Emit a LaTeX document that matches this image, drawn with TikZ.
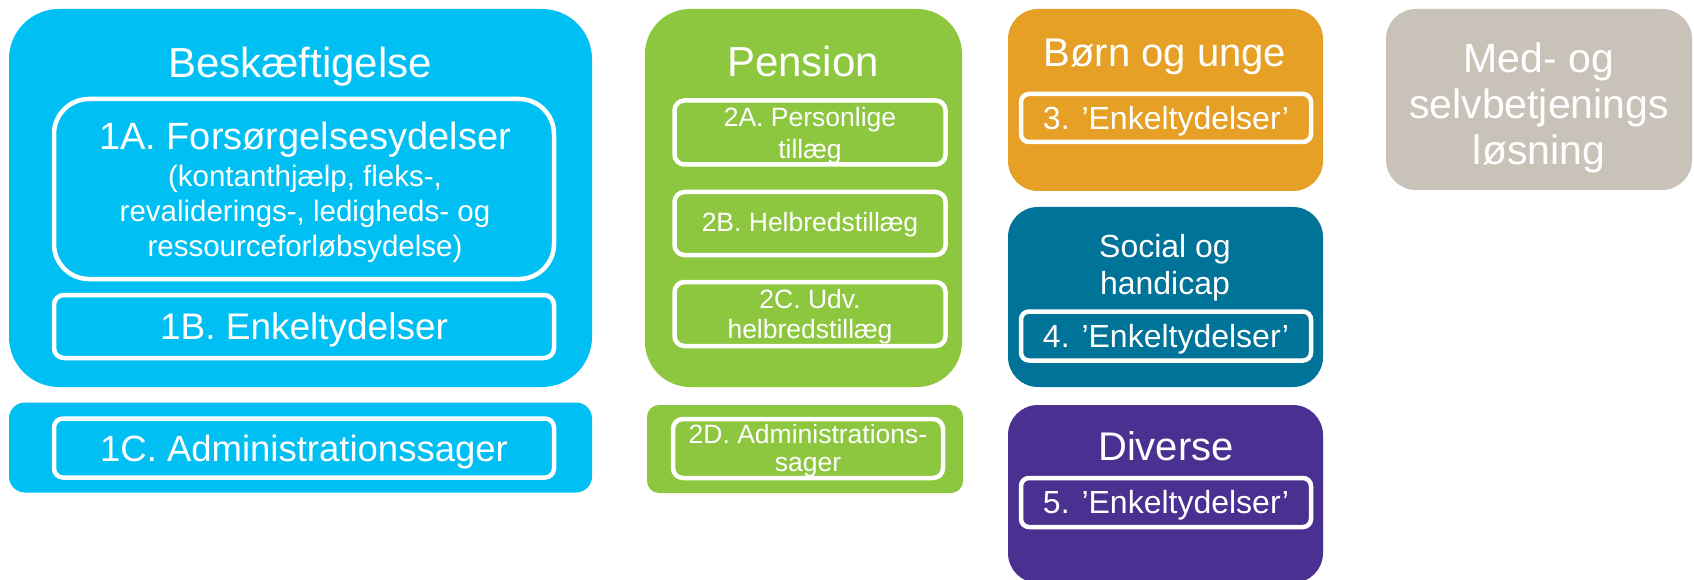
\documentclass[tikz,border=0pt]{standalone}
\usepackage{fontspec}
\setmainfont{Liberation Sans}
\definecolor{cBes}{HTML}{00C0F3}
\definecolor{cPen}{HTML}{8DC63F}
\definecolor{cBorn}{HTML}{E5A025}
\definecolor{cSoc}{HTML}{007398}
\definecolor{cDiv}{HTML}{4A3090}
\definecolor{cMed}{HTML}{C9C2B9}
\newcommand{\fs}[2]{\fontsize{#1}{#2}\selectfont}
\begin{document}
\begin{tikzpicture}[x=1pt,y=-1pt,
  panel/.style={rectangle, inner sep=0pt, outer sep=0pt, draw=none},
  item/.style={rectangle, inner sep=0pt, outer sep=0pt, draw=white, line width=4.5pt},
  lbl/.style={inner sep=0pt, outer sep=0pt, text=white, align=center}
]
\useasboundingbox[fill=white] (0,0) rectangle (1694,580);
% Beskaeftigelse
\node[panel, fill=cBes, minimum width=583, minimum height=378, rounded corners=50] (bes) at (300.5,198) {};
\node[lbl, font=\fs{42}{48}] (besT) at (300,67) {Beskæftigelse};
\node[item, minimum width=500, minimum height=180, rounded corners=35] (b1a) at (304,189) {};
\node[lbl, font=\fs{38}{44}] (b1aT) at (305,140) {1A. Forsørgelsesydelser};
\node[lbl, font=\fs{29.5}{35}] (b1aS) at (305,214) {(kontanthjælp, fleks-,\\revaliderings-, ledigheds- og\\ressourceforløbsydelse)};
\node[item, minimum width=500, minimum height=63, rounded corners=10] (b1b) at (304,326.5) {};
\node[lbl, font=\fs{37}{44}] (b1bT) at (304,330) {1B. Enkeltydelser};
\node[panel, fill=cBes, minimum width=583, minimum height=90, rounded corners=16] (bes2) at (300.5,447.5) {};
\node[item, minimum width=500, minimum height=59, rounded corners=9] (b1c) at (304,448) {};
\node[lbl, font=\fs{36.5}{44}] (b1cT) at (304,452) {1C. Administrationssager};
% Pension
\node[panel, fill=cPen, minimum width=317, minimum height=378, rounded corners=45] (pen) at (803.5,198) {};
\node[lbl, font=\fs{42}{48}] (penT) at (803,61) {Pension};
\node[item, minimum width=271, minimum height=64, rounded corners=10] (p2a) at (810,132.5) {};
\node[lbl, font=\fs{26.5}{32}] (p2aT) at (810,135.5) {2A. Personlige\\tillæg};
\node[item, minimum width=271, minimum height=63, rounded corners=10] (p2b) at (810,223.5) {};
\node[lbl, font=\fs{26.5}{32}] (p2bT) at (810,225) {2B. Helbredstillæg};
\node[item, minimum width=271, minimum height=64, rounded corners=10] (p2c) at (810,314) {};
\node[lbl, font=\fs{26.5}{30}] (p2cT) at (810,316.5) {2C. Udv.\\helbredstillæg};
\node[panel, fill=cPen, minimum width=316, minimum height=88, rounded corners=12] (pen2) at (805,449) {};
\node[item, minimum width=270, minimum height=59, rounded corners=10] (p2d) at (808,448.5) {};
\node[lbl, font=\fs{26.5}{28}] (p2dT) at (808,451) {2D. Administrations-\\sager};
% Boern og unge
\node[panel, fill=cBorn, minimum width=315, minimum height=182, rounded corners=30] (born) at (1165.5,100) {};
\node[lbl, font=\fs{40}{46}] (bornT) at (1165,57) {Børn og unge};
\node[item, minimum width=290, minimum height=48, rounded corners=8] (b3) at (1166,118) {};
\node[lbl, font=\fs{32}{38}] (b3T) at (1166,121) {3. ’Enkeltydelser’};
% Social og handicap
\node[panel, fill=cSoc, minimum width=315, minimum height=180, rounded corners=30] (soc) at (1165.5,297) {};
\node[lbl, font=\fs{32}{37}] (socT) at (1165,268) {Social og\\handicap};
\node[item, minimum width=290, minimum height=49, rounded corners=8] (s4) at (1166,336) {};
\node[lbl, font=\fs{32}{38}] (s4T) at (1166,339) {4. ’Enkeltydelser’};
% Diverse
\node[panel, fill=cDiv, minimum width=315, minimum height=178, rounded corners=30] (div) at (1165.5,494) {};
\node[lbl, font=\fs{40}{46}] (divT) at (1166,446) {Diverse};
\node[item, minimum width=290, minimum height=49, rounded corners=8] (d5) at (1166,502.5) {};
\node[lbl, font=\fs{32}{38}] (d5T) at (1166,505.5) {5. ’Enkeltydelser’};
% Med- og selvbetjening
\node[panel, fill=cMed, minimum width=306, minimum height=181, rounded corners=30] (med) at (1539,99.5) {};
\node[lbl, font=\fs{41}{46}] (medT) at (1539,108) {Med- og\\selvbetjenings\\løsning};
\end{tikzpicture}
\end{document}
